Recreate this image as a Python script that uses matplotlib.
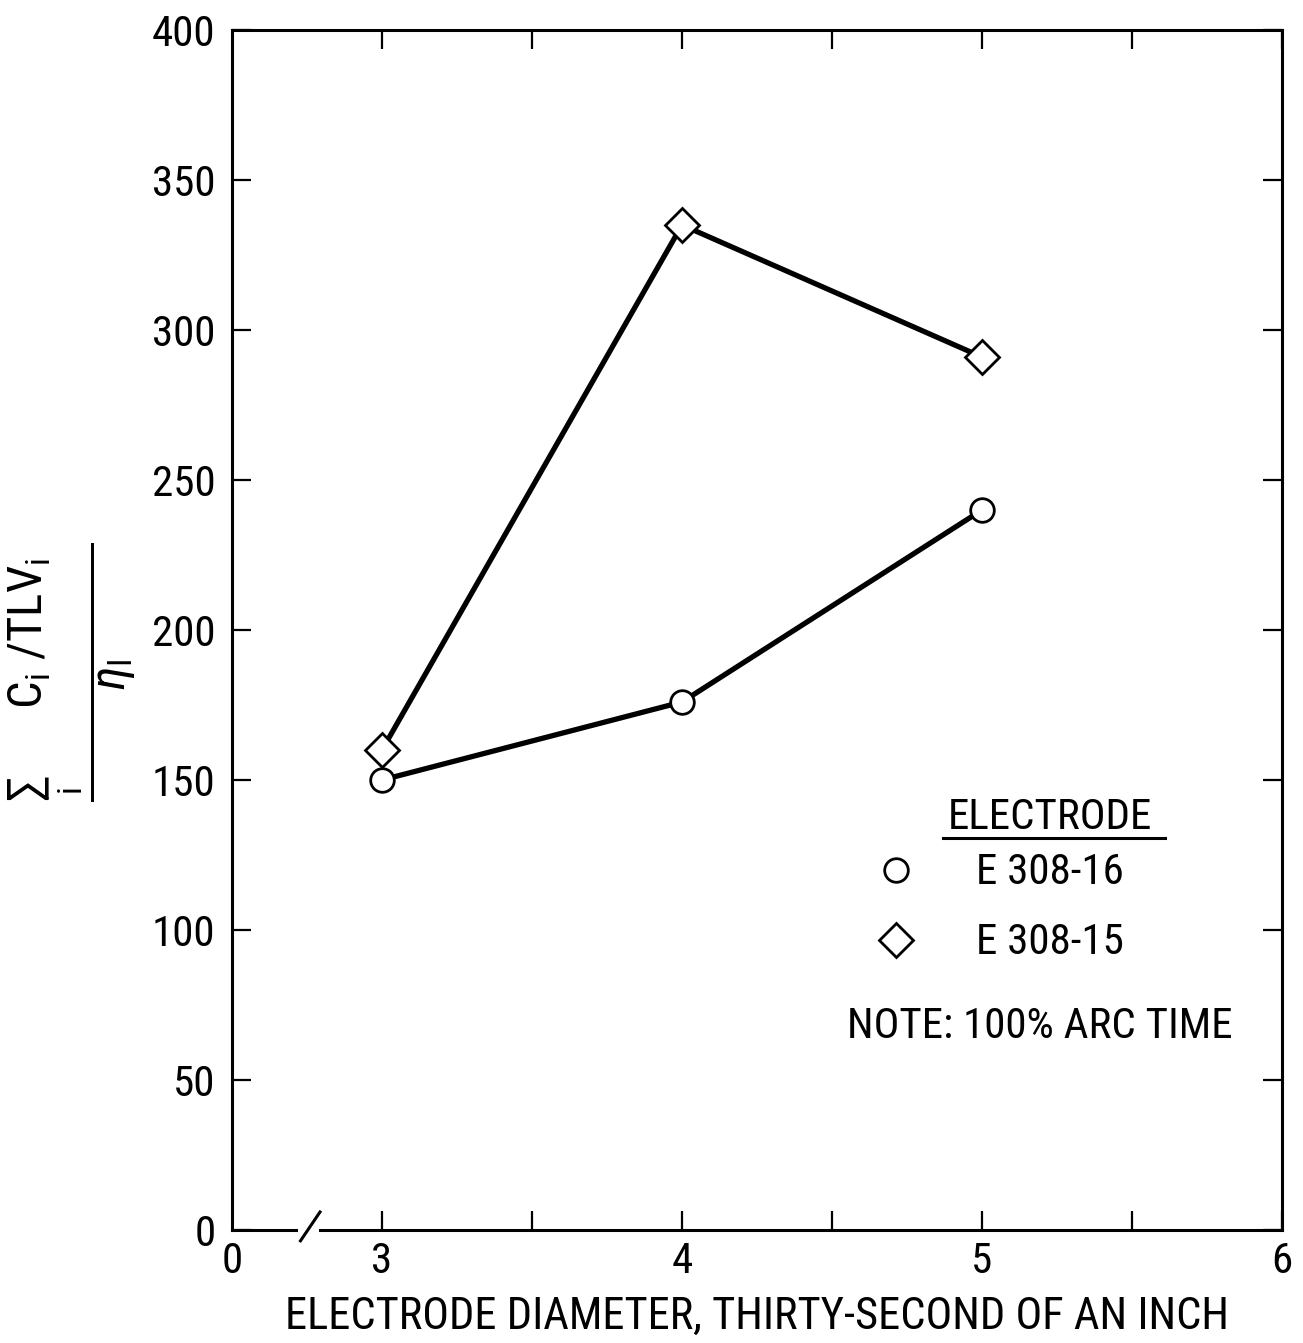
import matplotlib
matplotlib.use("Agg")
import matplotlib.pyplot as plt
from matplotlib import font_manager as fm

# pick a condensed / narrow sans if one is installed
def pick_font():
    prefs = ['Liberation Sans Narrow', 'Roboto Condensed', 'Open Sans Condensed',
             'Noto Sans Condensed', 'DejaVu Sans Condensed']
    names = {f.name for f in fm.fontManager.ttflist}
    for p in prefs:
        if p in names:
            return p, None, 1.0
    for f in fm.fontManager.ttflist:
        if f.name == 'DejaVu Sans' and 'Condensed' in f.fname and 'Bold' not in f.fname \
                and 'Oblique' not in f.fname:
            return 'DejaVu Sans', 'condensed', 0.95
    for f in fm.fontManager.ttflist:
        if ('Narrow' in f.name or 'Condensed' in f.name):
            return f.name, None, 1.0
    return 'DejaVu Sans', None, 0.85

FAM, STRETCH, SCALE = pick_font()
plt.rcParams['font.family'] = [FAM, 'DejaVu Sans']
if STRETCH:
    plt.rcParams['font.stretch'] = STRETCH
plt.rcParams['mathtext.fontset'] = 'custom'
plt.rcParams['mathtext.rm'] = FAM
plt.rcParams['mathtext.it'] = FAM + ':italic'
plt.rcParams['mathtext.fallback'] = 'stixsans'

FS = 31 * SCALE

# Data
diameters = [3, 4, 5]
e308_16 = [150, 176, 240]
e308_15 = [160, 335, 291]
x_tick_pos = [2.5, 3, 4, 5, 6]
x_tick_labels = ['0', '3', '4', '5', '6']
y_ticks = [0, 50, 100, 150, 200, 250, 300, 350, 400]
legend_labels = ['E 308-16', 'E 308-15']

fig = plt.figure(figsize=(13.03, 13.43), dpi=100)
ax = fig.add_axes([232/1303, 1 - 1230/1343, (1282-232)/1303, (1230-30)/1343])

lw = 3.8
ax.plot(diameters, e308_16, color='black', lw=lw, marker='o', ms=17,
        mfc='white', mec='black', mew=2.0, zorder=3)
ax.plot(diameters, e308_15, color='black', lw=lw, marker='D', ms=17,
        mfc='white', mec='black', mew=2.0, zorder=3)

ax.set_xlim(2.5, 6)
ax.set_ylim(0, 400)
ax.set_xticks(x_tick_pos)
ax.set_xticklabels(x_tick_labels)
ax.set_xticks([3.5, 4.5, 5.5], minor=True)
ax.set_yticks(y_ticks)
for s in ax.spines.values():
    s.set_linewidth(2.2)
ax.tick_params(axis='both', which='both', direction='in', length=14, width=1.6,
               labelsize=FS, top=True, right=True)
ax.tick_params(axis='x', which='major', pad=8)
ax.tick_params(axis='y', which='major', pad=12)
ax.xaxis.get_major_ticks()[0].tick1line.set_visible(False)
ax.xaxis.get_major_ticks()[0].tick2line.set_visible(False)

ax.set_xlabel('ELECTRODE DIAMETER, THIRTY-SECOND OF AN INCH', fontsize=32 * SCALE, labelpad=10)
fig.text(72/1303, 1 - 672/1343,
         r'$\dfrac{\sum_{\mathrm{i}}\ \ \ \ \ \ \mathrm{C_i\ /TLV_i}\ }{\eta_\mathrm{I}}$',
         fontsize=35, rotation=90, ha='center', va='center')

# axis break mark
xb = 2.5 + (308 - 232) / 300
ax.plot([xb - 0.035, xb + 0.035], [0, 0], color='white', lw=4, transform=ax.get_xaxis_transform(),
        clip_on=False, zorder=4, solid_capstyle='butt')
ax.plot([xb - 0.025, xb + 0.04], [-0.009, 0.015], color='black', lw=2.2,
        transform=ax.get_xaxis_transform(), clip_on=False, zorder=5)

# legend (manual)
ax.text(5.227, 137.5, 'ELECTRODE', fontsize=FS, ha='center', va='center')
ax.plot([4.87, 5.61], [130.7, 130.7], color='black', lw=2.2)
ax.plot([4.713], [120], marker='o', ms=17, mfc='white', mec='black', mew=2.0, ls='none')
ax.text(5.227, 119, legend_labels[0], fontsize=FS, ha='center', va='center')
ax.plot([4.713], [96.7], marker='D', ms=17, mfc='white', mec='black', mew=2.0, ls='none')
ax.text(5.227, 95.7, legend_labels[1], fontsize=FS, ha='center', va='center')
ax.text(5.193, 67.7, 'NOTE: 100% ARC TIME', fontsize=FS, ha='center', va='center')

fig.savefig('out.png', dpi=100)
